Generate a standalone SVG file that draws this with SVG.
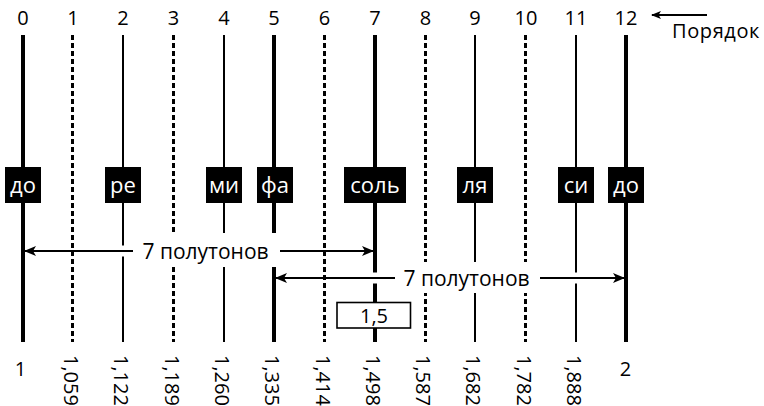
<svg xmlns="http://www.w3.org/2000/svg" width="764" height="406" viewBox="0 0 764 406">
<style>
text{font-family:"Open Sans","Noto Sans","Liberation Sans",sans-serif;font-size:20px;fill:#000}
.top{text-anchor:middle}
.note{text-anchor:middle;fill:#fff;font-size:22px}
.iv{text-anchor:middle;font-size:21px}
.thick{stroke:#000;stroke-width:4;fill:none}
.mid{stroke:#000;stroke-width:2;fill:none}
.dash{stroke:#000;stroke-width:3;stroke-dasharray:5 3;fill:none}
.halo{stroke:#fff;stroke-width:11;fill:none}
.arr{stroke:#000;stroke-width:2;fill:none}
.box{fill:#000}
</style>
<defs>
<marker id="ah" viewBox="0 0 12 10" refX="11" refY="5" markerWidth="12" markerHeight="10" markerUnits="userSpaceOnUse" orient="auto-start-reverse">
<path d="M0,0 L12,5 L0,10 L3,5 Z" fill="#000"/>
</marker>
<marker id="ahs" viewBox="0 0 10 8" refX="9" refY="4" markerWidth="10" markerHeight="8" markerUnits="userSpaceOnUse" orient="auto-start-reverse">
<path d="M0,0 L10,4 L0,8 L2.5,4 Z" fill="#000"/>
</marker>
</defs>

<g id="order-labels">
<text class="top" x="23" y="25">0</text>
<text class="top" x="73" y="25">1</text>
<text class="top" x="123" y="25">2</text>
<text class="top" x="173.5" y="25">3</text>
<text class="top" x="224" y="25">4</text>
<text class="top" x="274" y="25">5</text>
<text class="top" x="324.5" y="25">6</text>
<text class="top" x="375" y="25">7</text>
<text class="top" x="425.5" y="25">8</text>
<text class="top" x="475" y="25">9</text>
<text class="top" x="526" y="25">10</text>
<text class="top" x="576" y="25">11</text>
<text class="top" x="626" y="25">12</text>
</g>

<g id="order-arrow">
<line class="arr" x1="707" y1="15" x2="652" y2="15" stroke-width="1.6" marker-end="url(#ahs)"/>
<text x="672" y="38" font-size="22" letter-spacing="0.6">Порядок</text>
</g>

<g id="connectors">
<line class="thick" x1="23" y1="35" x2="23" y2="342"/>
<line class="mid" x1="123" y1="35" x2="123" y2="342"/>
<line class="mid" x1="224" y1="35" x2="224" y2="342"/>
<line class="thick" x1="274" y1="35" x2="274" y2="342"/>
<line class="thick" x1="375" y1="35" x2="375" y2="342"/>
<line class="mid" x1="475" y1="35" x2="475" y2="342"/>
<line class="mid" x1="576" y1="35" x2="576" y2="342"/>
<line class="thick" x1="626" y1="35" x2="626" y2="342"/>
<line class="halo" x1="32" y1="251" x2="364" y2="251"/>
<line class="halo" x1="284" y1="278" x2="616" y2="278"/>
<line class="dash" x1="72.5" y1="35" x2="72.5" y2="342"/>
<line class="dash" x1="173.5" y1="35" x2="173.5" y2="342"/>
<line class="dash" x1="324.5" y1="35" x2="324.5" y2="342"/>
<line class="dash" x1="425.5" y1="35" x2="425.5" y2="342"/>
<line class="dash" x1="525.5" y1="35" x2="525.5" y2="342"/>
</g>

<g id="interval-1">
<line class="arr" x1="25" y1="251" x2="373" y2="251" marker-start="url(#ah)" marker-end="url(#ah)"/>
<rect x="133" y="233" width="147" height="34" fill="#fff"/>
<text class="iv" x="205.5" y="258.5">7 полутонов</text>
</g>

<g id="interval-2">
<line class="arr" x1="276" y1="278" x2="624" y2="278" marker-start="url(#ah)" marker-end="url(#ah)"/>
<rect x="395" y="262" width="145" height="31" fill="#fff"/>
<text class="iv" x="466.5" y="285.5">7 полутонов</text>
</g>

<g id="note-do"><rect class="box" x="5" y="167" width="36" height="36"/><text class="note" x="23" y="192.5">до</text></g>
<g id="note-re"><rect class="box" x="105" y="167" width="36" height="36"/><text class="note" x="123" y="192.5">ре</text></g>
<g id="note-mi"><rect class="box" x="206" y="167" width="36" height="36"/><text class="note" x="224" y="192.5">ми</text></g>
<g id="note-fa"><rect class="box" x="257" y="167" width="36" height="36"/><text class="note" x="275" y="192.5">фа</text></g>
<g id="note-sol"><rect class="box" x="344" y="167" width="62" height="36"/><text class="note" x="375" y="192.5">соль</text></g>
<g id="note-la"><rect class="box" x="457" y="167" width="36" height="36"/><text class="note" x="475" y="192.5">ля</text></g>
<g id="note-si"><rect class="box" x="558" y="167" width="36" height="36"/><text class="note" x="576" y="192.5">си</text></g>
<g id="note-do2"><rect class="box" x="608" y="167" width="36" height="36"/><text class="note" x="626" y="192.5">до</text></g>

<g id="ratio-box">
<rect x="337" y="302.5" width="73.5" height="25.5" fill="#fff" stroke="#000" stroke-width="1.6"/>
<text x="374" y="322.5" text-anchor="middle">1,5</text>
</g>

<g id="ratio-labels">
<text x="20.5" y="376" text-anchor="middle">1</text>
<text transform="translate(64,355) rotate(90)">1,059</text>
<text transform="translate(114.3,355) rotate(90)">1,122</text>
<text transform="translate(164.6,355) rotate(90)">1,189</text>
<text transform="translate(214.9,355) rotate(90)">1,260</text>
<text transform="translate(265.2,355) rotate(90)">1,335</text>
<text transform="translate(315.5,355) rotate(90)">1,414</text>
<text transform="translate(365.8,355) rotate(90)">1,498</text>
<text transform="translate(416.1,355) rotate(90)">1,587</text>
<text transform="translate(466.4,355) rotate(90)">1,682</text>
<text transform="translate(516.7,355) rotate(90)">1,782</text>
<text transform="translate(567,355) rotate(90)">1,888</text>
<text x="625.5" y="376" text-anchor="middle">2</text>
</g>
</svg>
